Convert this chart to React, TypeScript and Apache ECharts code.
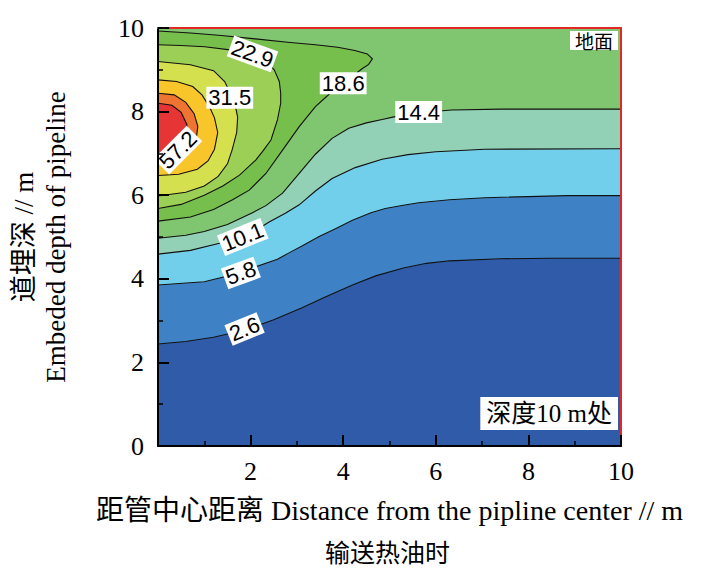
import React, { useEffect, useRef } from 'react';
import * as echarts from 'echarts';

// ---- data ----
const axisMin = 0;
const axisMax = 10;
const tickStep = 2;

const levelLabels = ['2.6', '5.8', '10.1', '14.4', '18.6', '22.9', '31.5', '40.1', '48.7', '57.2'];

// contour curves [x, y] (open curves run from x=0 to x=10, closed ones start and end on x=0)
const c2_6 = [[0, 2.44], [0.6, 2.5], [1.2, 2.6], [1.9, 2.78], [2.5, 3.02], [3.1, 3.3], [3.6, 3.56], [4.2, 3.85], [4.7, 4.07], [5.3, 4.26], [5.8, 4.37], [6.3, 4.43], [7.4, 4.48], [8.5, 4.49], [10, 4.49]];
const c5_8 = [[0, 3.85], [1.0, 3.93], [1.7, 4.12], [2.04, 4.26], [2.58, 4.47], [2.83, 4.62], [3.12, 4.79], [3.48, 5.01], [3.8, 5.18], [4.2, 5.4], [4.6, 5.58], [4.91, 5.68], [5.3, 5.76], [5.63, 5.82], [6.3, 5.89], [7.06, 5.94], [8.85, 5.99], [10, 5.99]];
const c10_1 = [[0, 4.59], [0.7, 4.68], [1.33, 4.85], [1.83, 5.0], [2.1, 5.15], [2.4, 5.36], [2.75, 5.57], [3.05, 5.77], [3.4, 6.1], [3.76, 6.4], [4.26, 6.66], [4.84, 6.86], [5.4, 6.97], [6.0, 7.04], [7.06, 7.1], [10, 7.11]];
const c14_4 = [[0, 4.97], [0.6, 5.04], [1.0, 5.13], [1.5, 5.3], [2.04, 5.58], [2.33, 5.75], [2.69, 6.05], [3.05, 6.52], [3.4, 6.98], [3.76, 7.36], [4.12, 7.6], [4.5, 7.73], [4.84, 7.81], [5.12, 7.88], [5.7, 7.98], [6.34, 8.04], [7.42, 8.06], [10, 8.06]];
const c18_6 = [[0, 9.93], [0.7, 9.88], [1.37, 9.82], [2.1, 9.74], [2.8, 9.66], [3.4, 9.6], [3.88, 9.54], [4.25, 9.46], [4.52, 9.38], [4.63, 9.26], [4.55, 9.13], [4.4, 9.02], [4.1, 8.76], [3.76, 8.48], [3.4, 8.12], [3.05, 7.64], [2.69, 7.08], [2.33, 6.52], [1.97, 6.12], [1.61, 5.89], [1.2, 5.66], [0.7, 5.48], [0, 5.38]];
const c22_9 = [[0, 9.6], [0.5, 9.58], [1.01, 9.55], [1.6, 9.47], [2.09, 9.34], [2.35, 9.18], [2.51, 9.0], [2.62, 8.72], [2.65, 8.44], [2.65, 8.2], [2.58, 7.8], [2.44, 7.32], [2.26, 7.05], [2.11, 6.84], [1.76, 6.48], [1.4, 6.22], [1.0, 6.0], [0.5, 5.78], [0, 5.68]];
const c31_5 = [[0, 9.2], [0.7, 9.12], [1.2, 8.98], [1.44, 8.72], [1.6, 8.35], [1.68, 8.08], [1.72, 7.87], [1.7, 7.5], [1.6, 7.08], [1.5, 6.75], [1.3, 6.45], [1.0, 6.22], [0.6, 6.07], [0, 5.98]];
const c40_1 = [[0, 8.76], [0.4, 8.72], [0.75, 8.6], [0.95, 8.4], [1.12, 8.1], [1.22, 7.85], [1.29, 7.5], [1.22, 7.1], [1.08, 6.82], [0.85, 6.62], [0.45, 6.5], [0, 6.47]];
const c48_7 = [[0, 8.44], [0.35, 8.4], [0.6, 8.22], [0.78, 7.95], [0.86, 7.65], [0.82, 7.3], [0.68, 7.02], [0.42, 6.84], [0, 6.76]];
const c57_2 = [[0, 8.2], [0.3, 8.15], [0.5, 7.98], [0.62, 7.7], [0.64, 7.45], [0.57, 7.2], [0.42, 7.02], [0.2, 6.93], [0, 6.9]];

const contourCurves = [c2_6, c5_8, c10_1, c14_4, c18_6, c22_9, c31_5, c40_1, c48_7, c57_2];
const curveIsOpen = [true, true, true, true, false, false, false, false, false, false];

// band colours: below first level, then above each level
const bandColors = ['#2f5ba8', '#3e82c5', '#72cfeb', '#92d1b5', '#80c56f', '#76bf4c', '#9ccf56', '#d5e04e', '#f8c62b', '#ee7431', '#e63535'];

// inline contour labels
const labelTexts = ['2.6', '5.8', '10.1', '14.4', '18.6', '22.9', '31.5', '57.2'];
const labelX = [1.87, 1.79, 1.83, 5.63, 4.0, 2.04, 1.55, 0.43];
const labelY = [2.8, 4.14, 5.0, 7.99, 8.68, 9.38, 8.33, 7.08];
const labelAngle = [22, 20, 22, 0, 0, -20, 0, 45];

const serif = '"Liberation Serif", "Noto Sans CJK SC", serif';
const cjk = '"Noto Sans CJK SC", sans-serif';

export default function App() {
  const ref = useRef<HTMLDivElement>(null);
  useEffect(() => {
    if (!ref.current) return;
    const chart = echarts.init(ref.current, undefined, { renderer: 'svg' });

    const fillData = bandColors.map((_, i) => [i]);
    const lineData = contourCurves.map((_, i) => [i]);
    const labelData = labelTexts.map((_, i) => [labelX[i], labelY[i], labelAngle[i]]);

    const commonAxis = {
      type: 'value' as const,
      min: axisMin,
      max: axisMax,
      interval: tickStep,
      z: 10,
      splitLine: { show: false },
    };

    chart.setOption({
      animation: false,
      backgroundColor: '#ffffff',
      grid: { left: 155, right: 82, top: 28, bottom: 128 },
      xAxis: [
        {
          ...commonAxis,
          position: 'bottom',
          axisLine: { show: true, onZero: false, lineStyle: { color: '#000', width: 2 } },
          axisTick: { show: true, inside: true, length: 11, lineStyle: { color: '#000', width: 2 } },
          minorTick: { show: true, splitNumber: 2, length: 5, lineStyle: { color: '#000', width: 1.5 } },
          axisLabel: { showMinLabel: false, color: '#000', fontFamily: serif, fontSize: 26, margin: 12 },
          name: '距管中心距离 Distance from the pipline center // m',
          nameLocation: 'middle',
          nameGap: 50,
          nameTextStyle: { color: '#000', fontFamily: serif, fontSize: 28 },
        },
        {
          ...commonAxis,
          position: 'top',
          axisLine: { show: true, onZero: false, lineStyle: { color: '#e02828', width: 2 } },
          axisTick: { show: false },
          axisLabel: { show: false },
        },
      ],
      yAxis: [
        {
          ...commonAxis,
          position: 'left',
          axisLine: { show: true, onZero: false, lineStyle: { color: '#000', width: 2 } },
          axisTick: { show: true, inside: true, length: 11, lineStyle: { color: '#000', width: 2 } },
          minorTick: { show: true, splitNumber: 2, length: 5, lineStyle: { color: '#000', width: 1.5 } },
          axisLabel: { color: '#000', fontFamily: serif, fontSize: 26, margin: 14 },
          name: '道埋深 // m\nEmbeded depth of pipeline',
          nameLocation: 'middle',
          nameRotate: 90,
          nameGap: 86,
          nameTextStyle: { color: '#000', fontFamily: serif, fontSize: 27, lineHeight: 32 },
        },
        {
          ...commonAxis,
          position: 'right',
          axisLine: { show: true, onZero: false, lineStyle: { color: '#e02828', width: 2 } },
          axisTick: { show: false },
          axisLabel: { show: false },
        },
      ],
      series: [
        {
          type: 'custom',
          name: 'bands',
          xAxisIndex: 0,
          yAxisIndex: 0,
          clip: true,
          z: 1,
          data: fillData,
          renderItem: (params: any, api: any) => {
            const k = params.dataIndex;
            let poly: number[][];
            if (k === 0) {
              poly = [[axisMin, axisMin], [axisMax, axisMin], [axisMax, axisMax], [axisMin, axisMax]].map((p) => api.coord(p));
            } else {
              const pts = contourCurves[k - 1].map((p) => api.coord(p));
              poly = curveIsOpen[k - 1] ? [...pts, api.coord([axisMax, axisMax]), api.coord([axisMin, axisMax])] : pts;
            }
            return { type: 'polygon', shape: { points: poly }, style: { fill: bandColors[k], stroke: bandColors[k], lineWidth: 0.5 } };
          },
        },
        {
          type: 'custom',
          name: 'lines',
          xAxisIndex: 0,
          yAxisIndex: 0,
          clip: true,
          z: 3,
          data: lineData,
          renderItem: (params: any, api: any) => {
            const pts = contourCurves[params.dataIndex].map((p) => api.coord(p));
            return { type: 'polyline', shape: { points: pts }, style: { stroke: '#111', lineWidth: 1.1, fill: 'none' } };
          },
        },
        {
          type: 'custom',
          name: 'labels',
          xAxisIndex: 0,
          yAxisIndex: 0,
          clip: false,
          z: 4,
          data: labelData,
          renderItem: (params: any, api: any) => {
            const p = api.coord([api.value(0), api.value(1)]);
            return {
              type: 'text',
              x: p[0],
              y: p[1],
              rotation: (api.value(2) * Math.PI) / 180,
              style: {
                text: labelTexts[params.dataIndex],
                font: '22px "Liberation Sans", Arial, sans-serif',
                fill: '#000',
                align: 'center',
                verticalAlign: 'middle',
                backgroundColor: '#ffffff',
                padding: [0, 2],
              },
            };
          },
        },
      ],
      graphic: [
        {
          type: 'text',
          right: 85,
          top: 31,
          z: 20,
          style: { text: '地面', font: `19px ${cjk}`, fill: '#000', backgroundColor: '#ffffff', padding: [0, 5] },
        },
        {
          type: 'text',
          right: 85,
          top: 397,
          z: 20,
          style: { text: '深度10 m处', font: `25px ${serif}`, fill: '#000', backgroundColor: '#ffffff', padding: [4, 6] },
        },
        {
          type: 'text',
          left: 325,
          top: 538,
          z: 20,
          style: { text: '输送热油时', font: `25px ${cjk}`, fill: '#000' },
        },
      ],
    });
    return () => chart.dispose();
  }, []);
  return <div ref={ref} style={{ position: 'fixed', left: 0, top: 0, width: 703, height: 574 }} />;
}
